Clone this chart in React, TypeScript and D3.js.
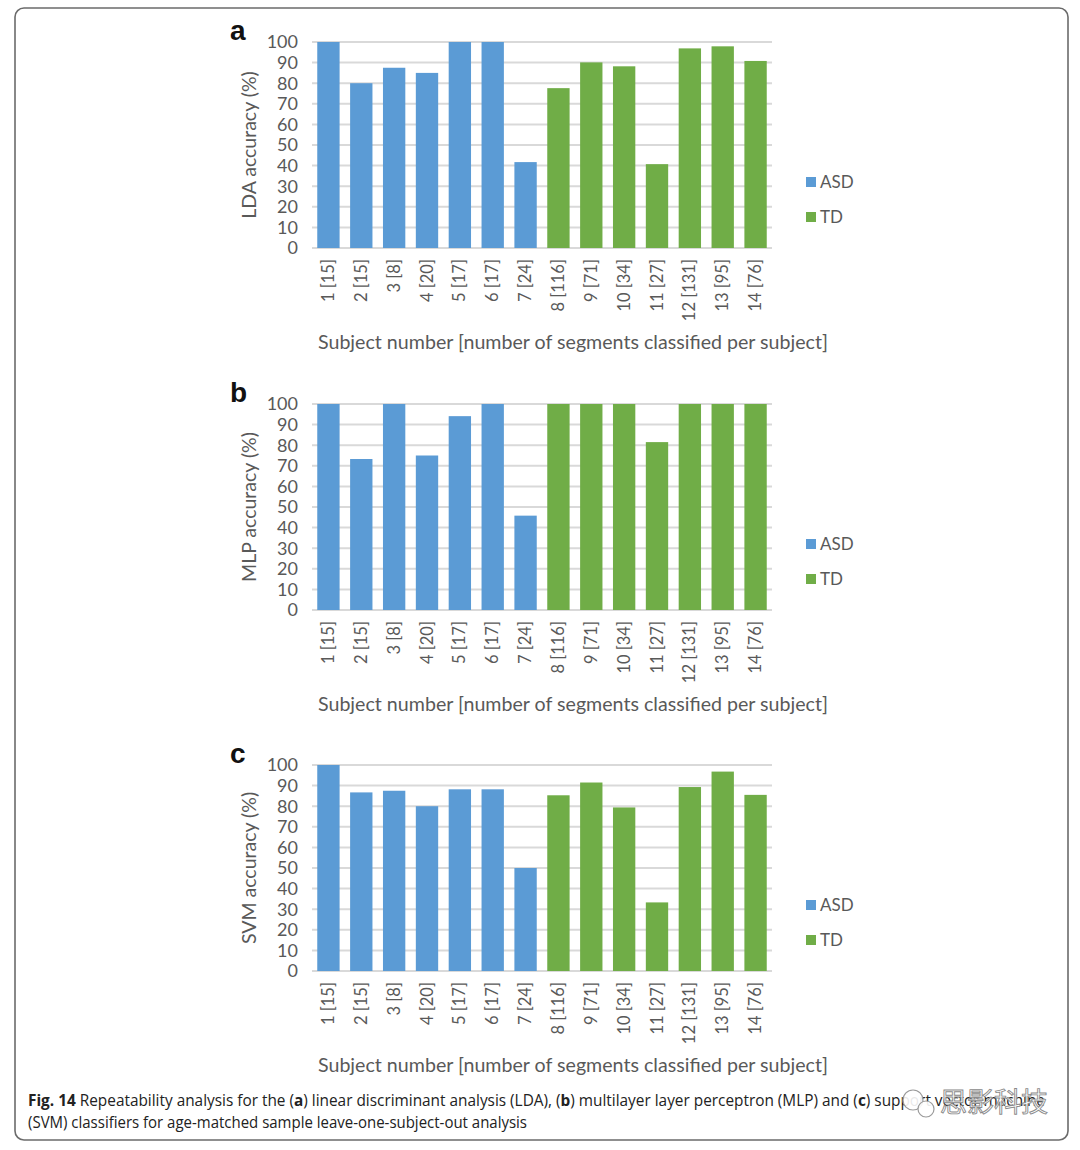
import * as React from 'react';
import * as d3 from 'd3';

const subjects = ['1 [15]', '2 [15]', '3 [8]', '4 [20]', '5 [17]', '6 [17]', '7 [24]',
  '8 [116]', '9 [71]', '10 [34]', '11 [27]', '12 [131]', '13 [95]', '14 [76]'];
const groups = ['ASD', 'ASD', 'ASD', 'ASD', 'ASD', 'ASD', 'ASD',
  'TD', 'TD', 'TD', 'TD', 'TD', 'TD', 'TD'];
const ldaValues = [100, 80, 87.5, 85, 100, 100, 41.7, 77.6, 90.1, 88.2, 40.7, 96.9, 97.9, 90.8];
const mlpValues = [100, 73.3, 100, 75, 94.1, 100, 45.8, 100, 100, 100, 81.5, 100, 100, 100];
const svmValues = [100, 86.7, 87.5, 80, 88.2, 88.2, 50, 85.3, 91.5, 79.4, 33.3, 89.3, 96.8, 85.5];
const yTicks = [0, 10, 20, 30, 40, 50, 60, 70, 80, 90, 100];
const legendItems = ['ASD', 'TD'];

const colors: Record<string, string> = {ASD: '#5B9BD5', TD: '#70AD47'};
const grey = '#595959';
const chartFont = 'Lato, "Open Sans", sans-serif';

interface PanelProps {
  letter: string,
  yLabel: string,
  values: number[],
  top: number
}

const Panel = ({letter, yLabel, values, top}: PanelProps) => {
  const x = d3.scaleBand<string>()
    .domain(subjects)
    .range([312, 772])
    .paddingInner(0.32)
    .paddingOuter(0.16);
  const y = d3.scaleLinear().domain([0, 100]).range([top + 206, top]);
  const base = y(0);

  return (
    <g>
      <text x={230} y={top - 2} fontFamily="Arial, 'Liberation Sans', sans-serif"
        fontWeight="bold" fontSize={28} fill="#111">{letter}</text>

      {yTicks.map(t => (
        <line key={'g' + t} x1={312} x2={772} y1={y(t)} y2={y(t)}
          stroke="#d9d9d9" strokeWidth={2}/>
      ))}
      {yTicks.map(t => (
        <text key={'t' + t} x={298} y={y(t)} dy="0.36em" textAnchor="end"
          fontFamily={chartFont} fontSize={18} fill={grey}>{t}</text>
      ))}

      <text transform={`translate(256,${(y(0) + y(100)) / 2}) rotate(-90)`}
        textAnchor="middle" fontFamily={chartFont} fontSize={19.5} fill={grey}>{yLabel}</text>

      {values.map((v, i) => (
        <rect key={subjects[i]} x={x(subjects[i])} y={y(v)} width={x.bandwidth()}
          height={base - y(v)} fill={colors[groups[i]]}/>
      ))}

      {subjects.map(s => (
        <text key={'x' + s}
          transform={`translate(${(x(s) as number) + x.bandwidth() / 2 + 5.5},${base + 11}) rotate(-90)`}
          textAnchor="end" fontFamily={chartFont} fontSize={16.5} fill={grey}>{s}</text>
      ))}

      <text x={318} y={base + 101} textLength={510} lengthAdjust="spacingAndGlyphs"
        fontFamily={chartFont} fontSize={19} fill={grey}>
        Subject number [number of segments classified per subject]
      </text>

      {legendItems.map((g, i) => (
        <g key={g} transform={`translate(806,${top + 140 + i * 35})`}>
          <rect x={0} y={-5} width={10} height={10} fill={colors[g]}/>
          <text x={14} y={0} dy="0.36em" fontFamily={chartFont} fontSize={17} fill={grey}>{g}</text>
        </g>
      ))}
    </g>
  );
};

const panels = [
  {letter: 'a', yLabel: 'LDA accuracy (%)', values: ldaValues, top: 42},
  {letter: 'b', yLabel: 'MLP accuracy (%)', values: mlpValues, top: 404},
  {letter: 'c', yLabel: 'SVM accuracy (%)', values: svmValues, top: 765}
];

const captionFont = '"Open Sans", "Liberation Sans", sans-serif';

export default function App() {
  return (
    <svg width={1080} height={1150} style={{position: 'absolute', left: 0, top: 0, background: '#fff'}}>
      <rect x={15} y={8} width={1053} height={1132} rx={9} fill="#fff" stroke="#6b6b6b" strokeWidth={1.6}/>

      {panels.map(p => <Panel key={p.letter} {...p}/>)}

      <text x={28} y={1106} fontFamily={captionFont} fontSize={16} fill="#222"
        textLength={1017} lengthAdjust="spacingAndGlyphs">
        <tspan fontWeight="bold">Fig. 14</tspan> Repeatability analysis for the (<tspan fontWeight="bold">a</tspan>) linear
        discriminant analysis (LDA), (<tspan fontWeight="bold">b</tspan>) multilayer layer perceptron (MLP) and
        (<tspan fontWeight="bold">c</tspan>) support vector machine
      </text>
      <text x={28} y={1128} fontFamily={captionFont} fontSize={16} fill="#222"
        textLength={499} lengthAdjust="spacingAndGlyphs">
        (SVM) classifiers for age-matched sample leave-one-subject-out analysis
      </text>

      <g>
        <circle cx={913} cy={1100} r={10} fill="rgba(255,255,255,0.9)" stroke="#9a9a9a" strokeWidth={1.2}/>
        <circle cx={926} cy={1109} r={8} fill="rgba(255,255,255,0.9)" stroke="#9a9a9a" strokeWidth={1.2}/>
        <text x={940} y={1112} fontFamily='"Noto Sans CJK SC", sans-serif' fontSize={27}
          fill="rgba(255,255,255,0.92)" stroke="#8a8a8a" strokeWidth={0.9}>思影科技</text>
      </g>
    </svg>
  );
}
